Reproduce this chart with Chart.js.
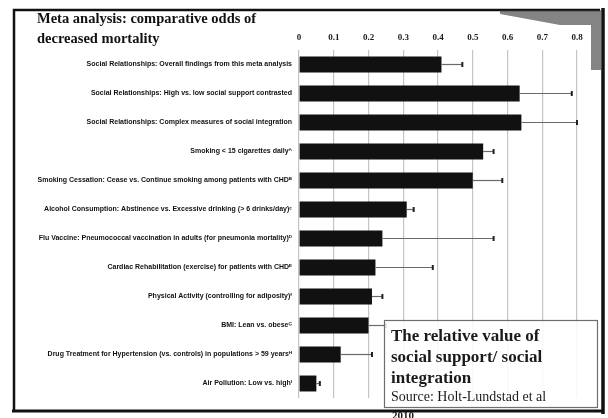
<!DOCTYPE html>
<html>
<head>
<meta charset="utf-8">
<script src="https://cdn.jsdelivr.net/npm/chart.js@4"></script>
<style>
  html, body { margin: 0; padding: 0; background: #fff; }
  canvas { display: block; }
</style>
</head>
<body>
<canvas id="c" width="608" height="418"></canvas>
<script>
// Interventions compared, top to bottom
const categories = [
  "Social Relationships: Overall findings from this meta analysis",
  "Social Relationships: High vs. low social support contrasted",
  "Social Relationships: Complex measures of social integration",
  "Smoking < 15 cigarettes daily\u1D2C",
  "Smoking Cessation: Cease vs. Continue smoking among patients with CHD\u1D2E",
  "Alcohol Consumption: Abstinence vs. Excessive drinking (> 6 drinks/day)\u1D9C",
  "Flu Vaccine: Pneumococcal vaccination in adults (for pneumonia mortality)\u1D30",
  "Cardiac Rehabilitation (exercise) for patients with CHD\u1D31",
  "Physical Activity (controlling for adiposity)\u1DA0",
  "BMI: Lean vs. obese\u1D33",
  "Drug Treatment for Hypertension (vs. controls) in populations > 59 years\u1D34",
  "Air Pollution: Low vs. high\u1D35"
];

// Odds of decreased mortality (bar length)
const oddsValues = [0.41, 0.635, 0.64, 0.53, 0.50, 0.31, 0.24, 0.22, 0.21, 0.20, 0.12, 0.05];

// Upper end of each confidence interval
const ciUpper = [0.47, 0.785, 0.80, 0.56, 0.585, 0.33, 0.56, 0.385, 0.24, 0.25, 0.21, 0.06];

// Axis tick values
const tickValues = [0, 0.1, 0.2, 0.3, 0.4, 0.5, 0.6, 0.7, 0.8];

const titleLines = ["Meta analysis: comparative odds of", "decreased mortality"];
const noteLines = ["The relative value of", "social support/ social", "integration"];
const sourceLines = ["Source: Holt-Lundstad et al", "2010"];

const SERIF = '"Liberation Serif", "DejaVu Serif", serif';
const NARROW = '"Liberation Sans Narrow", "Liberation Sans", Arial, sans-serif';

// Whiskers from the bar end to the upper confidence limit
const errorBars = {
  id: 'errorBars',
  afterDatasetsDraw(chart) {
    const ctx = chart.ctx;
    const xs = chart.scales.x;
    const meta = chart.getDatasetMeta(0);
    ctx.save();
    meta.data.forEach((bar, i) => {
      const x0 = xs.getPixelForValue(oddsValues[i]);
      const x1 = xs.getPixelForValue(ciUpper[i]);
      const y = bar.y;
      ctx.strokeStyle = '#6a6a6a';
      ctx.lineWidth = 1.2;
      ctx.beginPath();
      ctx.moveTo(x0, y);
      ctx.lineTo(x1, y);
      ctx.stroke();
      ctx.strokeStyle = '#222';
      ctx.lineWidth = 2;
      ctx.beginPath();
      ctx.moveTo(x1, y - 2.5);
      ctx.lineTo(x1, y + 2.5);
      ctx.stroke();
    });
    ctx.restore();
  }
};

// Page frame, heading and the note box
const decorations = {
  id: 'decorations',
  afterDraw(chart) {
    const ctx = chart.ctx;
    ctx.save();

    // heading
    ctx.fillStyle = '#111';
    ctx.font = 'bold 14.5px ' + SERIF;
    ctx.textBaseline = 'alphabetic';
    ctx.textAlign = 'left';
    ctx.fillText(titleLines[0], 37, 23);
    ctx.fillText(titleLines[1], 37, 43);

    // note box
    ctx.fillStyle = 'rgba(255,255,255,0.88)';
    ctx.fillRect(384, 320, 214, 88);
    ctx.strokeStyle = '#6e6e6e';
    ctx.lineWidth = 1.2;
    ctx.strokeRect(384.5, 320.5, 213, 87);

    ctx.fillStyle = '#1a1a1a';
    ctx.font = 'bold 17px ' + SERIF;
    ctx.fillText(noteLines[0], 391, 341);
    ctx.fillText(noteLines[1], 391, 362);
    ctx.fillText(noteLines[2], 391, 383);
    ctx.font = '14px ' + SERIF;
    ctx.fillText(sourceLines[0], 391, 401);
    ctx.font = 'bold 11px ' + SERIF;
    ctx.fillText(sourceLines[1], 392, 419);

    // frame
    ctx.strokeStyle = '#111';
    ctx.lineWidth = 2.5;
    ctx.beginPath();
    ctx.moveTo(14, 411);
    ctx.lineTo(14, 10);
    ctx.lineTo(600, 10);
    ctx.stroke();
    ctx.lineWidth = 3;
    ctx.beginPath();
    ctx.moveTo(12, 411);
    ctx.lineTo(602, 411);
    ctx.stroke();
    ctx.lineWidth = 3.5;
    ctx.beginPath();
    ctx.moveTo(603, 8);
    ctx.lineTo(603, 414);
    ctx.stroke();
    // darker band along the top-right corner
    ctx.fillStyle = 'rgba(50,50,50,0.6)';
    ctx.beginPath();
    ctx.moveTo(500, 10);
    ctx.lineTo(601, 10);
    ctx.lineTo(601, 70);
    ctx.lineTo(591, 70);
    ctx.lineTo(591, 25);
    ctx.lineTo(560, 25);
    ctx.lineTo(500, 14);
    ctx.closePath();
    ctx.fill();

    ctx.restore();
  }
};

new Chart(document.getElementById('c'), {
  type: 'bar',
  data: {
    labels: categories,
    datasets: [{
      data: oddsValues,
      backgroundColor: '#111111',
      borderWidth: 0,
      barPercentage: 0.55,
      categoryPercentage: 1.0
    }]
  },
  options: {
    indexAxis: 'y',
    responsive: false,
    animation: false,
    layout: { padding: { left: 14, right: 31, top: 32, bottom: 20 } },
    plugins: {
      legend: { display: false },
      tooltip: { enabled: false },
      title: { display: false }
    },
    scales: {
      x: {
        position: 'top',
        min: 0,
        max: 0.8,
        afterBuildTicks(scale) {
          scale.ticks = tickValues.map(v => ({ value: v }));
        },
        afterFit(scale) { scale.height = 18; },
        ticks: {
          padding: 7,
          color: '#1a1a1a',
          font: { family: SERIF, size: 9, weight: 'bold' },
          callback: v => (v === 0 ? '0' : Number(v).toFixed(1))
        },
        grid: { color: '#c4c4c4', lineWidth: 1.2, drawTicks: false },
        border: { display: false }
      },
      y: {
        afterFit(scale) { scale.width = 285; },
        ticks: {
          padding: 7,
          color: '#111',
          font: { family: NARROW, size: 7, weight: 'bold' },
          autoSkip: false
        },
        grid: { display: false, drawTicks: false },
        border: { display: false }
      }
    }
  },
  plugins: [errorBars, decorations]
});
</script>
</body>
</html>
